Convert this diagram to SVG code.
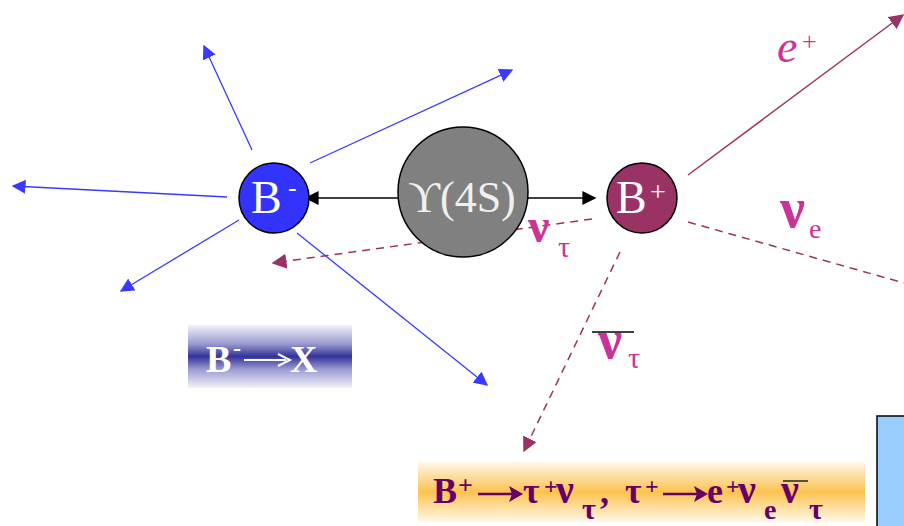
<svg xmlns="http://www.w3.org/2000/svg" width="904" height="526" viewBox="0 0 904 526">
<defs>
<style>
.blue{stroke:#3a3aff;stroke-width:1.3;fill:none}
.blk{stroke:#000;stroke-width:1.4;fill:none}
.mar{stroke:#993366;stroke-width:1.5;fill:none}
.dash{stroke-dasharray:8 6}
.serif{font-family:"Liberation Serif","DejaVu Serif",serif}
.lab{font-family:"Liberation Serif","DejaVu Serif",serif;fill:#cc3399}
.node{stroke:#000;stroke-width:1.5}
.wt{fill:#fff;font-family:"Liberation Serif","DejaVu Serif",serif}
.eq{font-family:"Liberation Serif","DejaVu Serif",serif;font-weight:bold;fill:#660066}
</style>
<marker id="ab" viewBox="0 0 10 10" refX="9" refY="5" markerWidth="14" markerHeight="14" markerUnits="userSpaceOnUse" orient="auto"><path d="M0,0 L10,5 L0,10 Z" fill="#3a3aff"/></marker>
<marker id="ak" viewBox="0 0 10 10" refX="9" refY="5" markerWidth="14" markerHeight="14" markerUnits="userSpaceOnUse" orient="auto"><path d="M0,0 L10,5 L0,10 Z" fill="#000"/></marker>
<marker id="am" viewBox="0 0 10 10" refX="9" refY="5" markerWidth="15" markerHeight="15" markerUnits="userSpaceOnUse" orient="auto"><path d="M0,0 L10,5 L0,10 Z" fill="#993366"/></marker>
<linearGradient id="gb" x1="0" y1="0" x2="0" y2="1">
<stop offset="0" stop-color="#f2f2fa"/><stop offset="0.3" stop-color="#9a9ad0"/><stop offset="0.5" stop-color="#333399"/><stop offset="0.7" stop-color="#9a9ad0"/><stop offset="1" stop-color="#f2f2fa"/>
</linearGradient>
<linearGradient id="go" x1="0" y1="0" x2="0" y2="1">
<stop offset="0" stop-color="#fff8ea"/><stop offset="0.5" stop-color="#fbc24f"/><stop offset="1" stop-color="#fff8ea"/>
</linearGradient>
</defs>
<rect width="904" height="526" fill="#fff"/>

<g id="connectors">
<line class="blue" x1="252" y1="150" x2="204" y2="46" marker-end="url(#ab)"/>
<line class="blue" x1="310" y1="163" x2="512" y2="70" marker-end="url(#ab)"/>
<line class="blue" x1="227" y1="197" x2="13" y2="186" marker-end="url(#ab)"/>
<line class="blue" x1="239" y1="220" x2="121" y2="291" marker-end="url(#ab)"/>
<line class="blue" x1="297" y1="233" x2="487" y2="385" marker-end="url(#ab)"/>
<line class="blk" x1="398" y1="198" x2="306" y2="198" marker-end="url(#ak)"/>
<line class="blk" x1="528" y1="198" x2="595" y2="198" marker-end="url(#ak)"/>
<line class="mar dash" x1="592" y1="219" x2="273" y2="263" marker-end="url(#am)"/>
<line class="mar dash" x1="620" y1="252" x2="524" y2="451" marker-end="url(#am)"/>
<line class="mar" x1="688" y1="175" x2="903" y2="15" marker-end="url(#am)"/>
<line class="mar dash" x1="688" y1="222" x2="904" y2="283"/>
</g>

<g id="upsilon">
<circle class="node" cx="463" cy="192" r="65" fill="#808080"/>
<text class="serif" x="462" y="212" font-size="44" fill="#f0f0f0" text-anchor="middle">ϒ(4S)</text>
</g>

<g id="bminus">
<circle class="node" cx="274" cy="198" r="35" fill="#3333ff"/>
<text class="wt" x="251" y="213" font-size="46">B</text>
<text class="wt" x="288" y="196" font-size="26">-</text>
</g>

<g id="bplus">
<circle class="node" cx="642" cy="198" r="35" fill="#993366"/>
<text class="wt" x="616" y="213" font-size="46">B</text>
<text class="wt" x="650" y="201" font-size="28">+</text>
</g>

<g id="labels">
<text class="lab" x="777" y="62" font-size="46" font-style="italic">e</text>
<text class="lab" x="802" y="50" font-size="26">+</text>
<text class="lab" x="780" y="227" font-size="56" font-weight="bold">ν</text>
<text class="lab" x="809" y="238" font-size="28">e</text>
<text class="lab" x="528" y="242" font-size="48" font-weight="bold">ν</text>
<text class="lab" x="558" y="257" font-size="30">τ</text>
<line x1="592" y1="332" x2="634" y2="332" stroke="#000" stroke-width="1.5"/>
<text class="lab" x="598" y="358" font-size="54" font-weight="bold">ν</text>
<text class="lab" x="628" y="368" font-size="30">τ</text>
</g>

<g id="box-bx">
<rect x="188" y="325" width="164" height="63" fill="url(#gb)"/>
<text class="wt" x="206" y="372" font-size="38" font-weight="bold">B</text>
<text class="wt" x="233" y="356" font-size="24" font-weight="bold">-</text>
<line x1="244" y1="360" x2="286" y2="360" stroke="#fff" stroke-width="2"/>
<path d="M278,354 L290,360 L278,366" stroke="#fff" stroke-width="2" fill="none"/>
<text class="wt" x="290" y="372" font-size="38" font-weight="bold">X</text>
</g>

<g id="box-eq">
<rect x="418" y="462" width="447" height="60" fill="url(#go)"/>
<text class="eq" font-size="36" y="503"><tspan x="433">B</tspan><tspan x="458" y="494" font-size="26">+</tspan><tspan x="523" y="503">τ</tspan><tspan x="544" y="494" font-size="24">+</tspan><tspan x="556" y="503" font-size="40">ν</tspan><tspan x="582" y="519" font-size="30">τ</tspan><tspan x="600" y="503">,</tspan><tspan x="625" y="503">τ</tspan><tspan x="645" y="494" font-size="24">+</tspan><tspan x="707" y="503">e</tspan><tspan x="726" y="494" font-size="24">+</tspan><tspan x="738" y="503" font-size="40">ν</tspan><tspan x="764" y="519" font-size="28">e</tspan><tspan x="781" y="503" font-size="40">ν</tspan><tspan x="809" y="519" font-size="30">τ</tspan></text>
<path d="M478,494 L514,494" stroke="#660066" stroke-width="2.5"/>
<path d="M509,486 L523,494 L509,502 L512,494 Z" fill="#660066"/>
<path d="M663,494 L699,494" stroke="#660066" stroke-width="2.5"/>
<path d="M694,486 L708,494 L694,502 L697,494 Z" fill="#660066"/>
<line x1="783" y1="481" x2="808" y2="481" stroke="#222" stroke-width="1.5"/>
</g>

<g id="box-right">
<rect x="877" y="416" width="30" height="112" fill="#99ccff" stroke="#000" stroke-width="1.5"/>
</g>
</svg>
